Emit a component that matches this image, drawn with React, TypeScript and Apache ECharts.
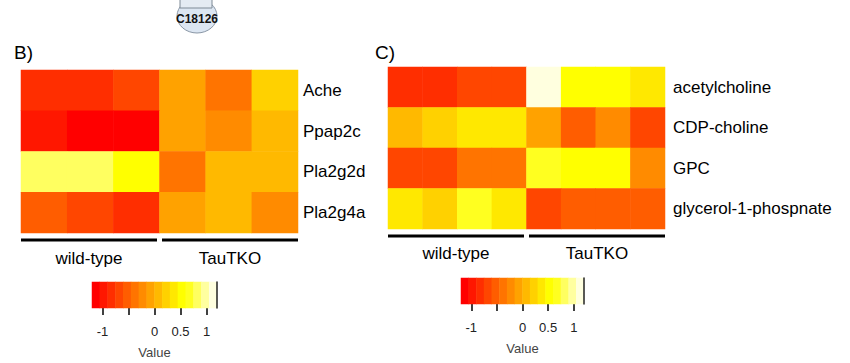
import React, { useEffect, useRef } from "react";
import * as echarts from "echarts";

// ---- data ----
const rowsB = ["Ache", "Ppap2c", "Pla2g2d", "Pla2g4a"];
const colsB = ["WT1", "WT2", "WT3", "TKO1", "TKO2", "TKO3"];
const matrixB = [
  [-0.83, -0.83, -0.68, -0.08, -0.38, 0.23],
  [-0.98, -1.13, -1.13, -0.08, -0.23, 0.08],
  [0.83, 0.83, 0.53, -0.38, 0.08, 0.08],
  [-0.53, -0.68, -0.83, -0.08, 0.08, -0.23],
];

const rowsC = ["acetylcholine", "CDP-choline", "GPC", "glycerol-1-phospnate"];
const colsC = ["WT1", "WT2", "WT3", "WT4", "TKO1", "TKO2", "TKO3", "TKO4"];
const matrixC = [
  [-0.83, -0.83, -0.68, -0.68, 1.13, 0.53, 0.53, 0.38],
  [0.08, 0.23, 0.38, 0.38, -0.08, -0.53, -0.23, -0.68],
  [-0.68, -0.68, -0.38, -0.38, 0.68, 0.53, 0.53, -0.23],
  [0.38, 0.23, 0.68, 0.38, -0.68, -0.53, -0.53, -0.53],
];

const groupLabels = ["wild-type", "TauTKO"];
const breaks = [-1.2, -1.05, -0.9, -0.75, -0.6, -0.45, -0.3, -0.15, 0, 0.15, 0.3, 0.45, 0.6, 0.75, 0.9, 1.05, 1.2];
const heatColors = [
  "#FF0000", "#FF1700", "#FF2E00", "#FF4600", "#FF5D00", "#FF7400", "#FF8B00", "#FFA200",
  "#FFB900", "#FFD100", "#FFE800", "#FFFF00", "#FFFF20", "#FFFF60", "#FFFF9F", "#FFFFDF",
];
const keyTicks = [-1, -0.5, 0, 0.5, 1];
const keyLabels = [-1, 0, 0.5, 1];

// ---- layout ----
const FONT = "Liberation Sans, Arial, sans-serif";
const gB = { left: 21, top: 70, width: 277, height: 163 };
const gC = { left: 388, top: 67, width: 277, height: 162 };
const kL = { left: 92, top: 282, width: 125, height: 26 };
const kR = { left: 461, top: 278, width: 123, height: 26 };

function toCells(m: number[][]) {
  const out: number[][] = [];
  m.forEach((row, r) => row.forEach((v, c) => out.push([c, r, v])));
  return out;
}

const keyCells = heatColors.map((_, i) => [i, 0, (breaks[i] + breaks[i + 1]) / 2]);
const keyCats = heatColors.map((_, i) => "k" + i);

function heatAxes(grid: number, cols: string[], rows: string[], margin: number) {
  return {
    x: { type: "category", gridIndex: grid, data: cols, show: false },
    y: {
      type: "category",
      gridIndex: grid,
      data: rows,
      inverse: true,
      position: "right",
      axisLine: { show: false },
      axisTick: { show: false },
      splitLine: { show: false },
      axisLabel: { fontSize: 17, color: "#000", fontFamily: FONT, margin },
    },
  };
}

function keyAxes(grid: number) {
  return {
    xc: { type: "category", gridIndex: grid, data: keyCats, show: false },
    xv: {
      type: "value",
      gridIndex: grid,
      min: -1.2,
      max: 1.2,
      position: "bottom",
      axisLine: { show: false, onZero: false },
      splitLine: { show: false },
      axisTick: { show: true, customValues: keyTicks, length: 7, lineStyle: { color: "#111", width: 1.6 } },
      axisLabel: { customValues: keyLabels, fontSize: 13, color: "#222", fontFamily: FONT, margin: 17 },
      name: "Value",
      nameLocation: "middle",
      nameGap: 38,
      nameTextStyle: { fontSize: 13, color: "#444", fontFamily: FONT },
    },
    y: {
      type: "category",
      gridIndex: grid,
      data: ["key"],
      position: "right",
      z: 10,
      axisLine: { show: true, onZero: false, lineStyle: { color: "#222", width: 1.5 } },
      axisTick: { show: false },
      axisLabel: { show: false },
      splitLine: { show: false },
    },
  };
}

function groupGraphics(g: { left: number; top: number; width: number; height: number }, splitFrac: number, lineGapY: number, labelY: number) {
  const splitX = g.left + g.width * splitFrac;
  const segs = [
    [g.left, splitX - 2.5],
    [splitX + 2.5, g.left + g.width],
  ];
  const els: any[] = [];
  segs.forEach((s, i) => {
    els.push({
      type: "line",
      shape: { x1: s[0], y1: g.top + g.height + lineGapY, x2: s[1], y2: g.top + g.height + lineGapY },
      style: { stroke: "#000", lineWidth: 3 },
    });
    els.push({
      type: "text",
      x: (s[0] + s[1]) / 2,
      y: labelY,
      style: { text: groupLabels[i], fontSize: 17, fill: "#000", fontFamily: FONT, align: "center", verticalAlign: "middle" },
    });
  });
  return els;
}

export default function App() {
  const ref = useRef<HTMLDivElement>(null);
  useEffect(() => {
    if (!ref.current) return;
    const chart = echarts.init(ref.current, null, { renderer: "svg" });
    const aB = heatAxes(0, colsB, rowsB, 5);
    const aC = heatAxes(1, colsC, rowsC, 8);
    const kA = keyAxes(2);
    const kB = keyAxes(3);
    const pieces = heatColors.map((c, i) =>
      i === heatColors.length - 1
        ? { gte: breaks[i], lte: breaks[i + 1], color: c }
        : { gte: breaks[i], lt: breaks[i + 1], color: c }
    );
    const option: any = {
      animation: false,
      backgroundColor: "#fff",
      grid: [gB, gC, kL, kR].map((g) => ({ ...g, containLabel: false })),
      xAxis: [aB.x, aC.x, kA.xc, kA.xv, kB.xc, kB.xv],
      yAxis: [aB.y, aC.y, kA.y, kB.y],
      visualMap: {
        type: "piecewise",
        show: false,
        dimension: 2,
        seriesIndex: [0, 1, 2, 3],
        pieces,
      },
      series: [
        { type: "heatmap", xAxisIndex: 0, yAxisIndex: 0, data: toCells(matrixB), itemStyle: { borderWidth: 0 } },
        { type: "heatmap", xAxisIndex: 1, yAxisIndex: 1, data: toCells(matrixC), itemStyle: { borderWidth: 0 } },
        { type: "heatmap", xAxisIndex: 2, yAxisIndex: 2, data: keyCells, itemStyle: { borderWidth: 0 } },
        { type: "heatmap", xAxisIndex: 4, yAxisIndex: 3, data: keyCells, itemStyle: { borderWidth: 0 } },
      ],
      graphic: [
        // partial pathway node at top
        { type: "ellipse", shape: { cx: 197, cy: 16, rx: 20, ry: 17 }, style: { fill: "#dce6f2", stroke: "#8a97a6", lineWidth: 1 } },
        { type: "rect", shape: { x: 180, y: -6, width: 32, height: 14 }, style: { fill: "#e4ebf3", stroke: "#7f8a96", lineWidth: 1 } },
        { type: "text", x: 197, y: 19, style: { text: "C18126", fontSize: 12, fontWeight: "bold", fill: "#111", fontFamily: FONT, align: "center", verticalAlign: "middle" } },
        // panel letters
        { type: "text", x: 14, y: 52, style: { text: "B)", fontSize: 19, fill: "#000", fontFamily: FONT, verticalAlign: "middle" } },
        { type: "text", x: 375, y: 52, style: { text: "C)", fontSize: 19, fill: "#000", fontFamily: FONT, verticalAlign: "middle" } },
        ...groupGraphics(gB, 0.5, 7, 258),
        ...groupGraphics(gC, 0.5, 7, 253),
      ],
    };
    chart.setOption(option);
    return () => chart.dispose();
  }, []);
  return <div ref={ref} style={{ position: "fixed", left: 0, top: 0, width: 850, height: 363, background: "#fff" }} />;
}
